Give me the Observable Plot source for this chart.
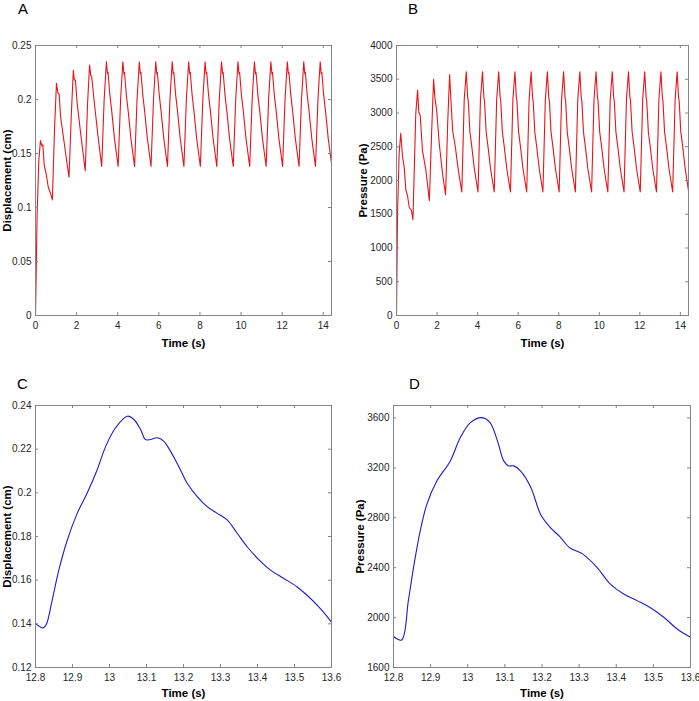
<!DOCTYPE html>
<html>
<head>
<meta charset="utf-8">
<script src="https://cdn.jsdelivr.net/npm/d3@7"></script>
<script src="https://cdn.jsdelivr.net/npm/@observablehq/plot@0.6"></script>
<style>
  html, body { margin: 0; padding: 0; background: #fff; }
  #root { position: relative; width: 699px; height: 701px; font-family: "Liberation Sans", Arial, sans-serif; }
  .panel { position: absolute; }
  .letter { position: absolute; font-size: 15px; color: #000; line-height: 1; }
</style>
</head>
<body>
<div id="root"></div>
<script>
// ---------- Panel A: displacement, full run ----------
const timeA = [
  0, 0.08, 0.16, 0.24, 0.31, 0.36, 0.42, 0.52, 0.62, 0.73, 0.82,
  0.93, 1.02, 1.09, 1.15, 1.22, 1.38, 1.54, 1.63,
  1.74, 1.84, 1.89, 1.94, 2.03, 2.20, 2.42,
  2.53, 2.63, 2.69, 2.73, 2.85, 3.03,
  3.22, 3.34, 3.45, 3.50, 3.53, 3.62, 3.71, 3.84,
  4.02, 4.14, 4.25, 4.30, 4.33, 4.42, 4.51, 4.64,
  4.82, 4.94, 5.05, 5.10, 5.13, 5.22, 5.31, 5.44,
  5.62, 5.74, 5.85, 5.90, 5.93, 6.02, 6.11, 6.24,
  6.42, 6.54, 6.65, 6.70, 6.73, 6.82, 6.91, 7.04,
  7.22, 7.34, 7.45, 7.50, 7.53, 7.62, 7.71, 7.84,
  8.02, 8.14, 8.25, 8.30, 8.33, 8.42, 8.51, 8.64,
  8.82, 8.94, 9.05, 9.10, 9.13, 9.22, 9.31, 9.44,
  9.62, 9.74, 9.85, 9.90, 9.93, 10.02, 10.11, 10.24,
  10.42, 10.54, 10.65, 10.70, 10.73, 10.82, 10.91, 11.04,
  11.22, 11.34, 11.45, 11.50, 11.53, 11.62, 11.71, 11.84,
  12.02, 12.14, 12.25, 12.30, 12.33, 12.42, 12.51, 12.64,
  12.82, 12.94, 13.05, 13.10, 13.13, 13.22, 13.31, 13.44,
  13.62, 13.74, 13.85, 13.90, 13.93, 14.02, 14.11, 14.24, 14.40
];
const dispA = [
  0, 0.094, 0.143, 0.162, 0.157, 0.158, 0.140, 0.131, 0.119, 0.113, 0.107,
  0.175, 0.215, 0.206, 0.205, 0.184, 0.162, 0.140, 0.128,
  0.185, 0.227, 0.218, 0.218, 0.196, 0.168, 0.134,
  0.195, 0.232, 0.222, 0.222, 0.199, 0.168,
  0.138, 0.200, 0.235, 0.224, 0.225, 0.204, 0.189, 0.164,
  0.138, 0.200, 0.235, 0.224, 0.225, 0.204, 0.189, 0.164,
  0.138, 0.200, 0.235, 0.224, 0.225, 0.204, 0.189, 0.164,
  0.138, 0.200, 0.235, 0.224, 0.225, 0.204, 0.189, 0.164,
  0.138, 0.200, 0.235, 0.224, 0.225, 0.204, 0.189, 0.164,
  0.138, 0.200, 0.235, 0.224, 0.225, 0.204, 0.189, 0.164,
  0.138, 0.200, 0.235, 0.224, 0.225, 0.204, 0.189, 0.164,
  0.138, 0.200, 0.235, 0.224, 0.225, 0.204, 0.189, 0.164,
  0.138, 0.200, 0.235, 0.224, 0.225, 0.204, 0.189, 0.164,
  0.138, 0.200, 0.235, 0.224, 0.225, 0.204, 0.189, 0.164,
  0.138, 0.200, 0.235, 0.224, 0.225, 0.204, 0.189, 0.164,
  0.138, 0.200, 0.235, 0.224, 0.225, 0.204, 0.189, 0.164,
  0.138, 0.200, 0.235, 0.224, 0.225, 0.204, 0.189, 0.164,
  0.138, 0.200, 0.235, 0.224, 0.225, 0.204, 0.189, 0.164, 0.141
];

// ---------- Panel B: pressure, full run ----------
const timeB = [
  0, 0.05, 0.13, 0.21, 0.30, 0.38, 0.46, 0.54, 0.63, 0.74, 0.81,
  0.95, 1.04, 1.10, 1.17, 1.28, 1.45, 1.62,
  1.73, 1.83, 1.89, 1.98, 2.11, 2.27, 2.42,
  2.53, 2.62, 2.68, 2.77, 2.90, 3.05,
  3.22, 3.34, 3.44, 3.51, 3.54, 3.62, 3.71, 3.84,
  4.02, 4.14, 4.24, 4.31, 4.34, 4.42, 4.51, 4.64,
  4.82, 4.94, 5.04, 5.11, 5.14, 5.22, 5.31, 5.44,
  5.62, 5.74, 5.84, 5.91, 5.94, 6.02, 6.11, 6.24,
  6.42, 6.54, 6.64, 6.71, 6.74, 6.82, 6.91, 7.04,
  7.22, 7.34, 7.44, 7.51, 7.54, 7.62, 7.71, 7.84,
  8.02, 8.14, 8.24, 8.31, 8.34, 8.42, 8.51, 8.64,
  8.82, 8.94, 9.04, 9.11, 9.14, 9.22, 9.31, 9.44,
  9.62, 9.74, 9.84, 9.91, 9.94, 10.02, 10.11, 10.24,
  10.42, 10.54, 10.64, 10.71, 10.74, 10.82, 10.91, 11.04,
  11.22, 11.34, 11.44, 11.51, 11.54, 11.62, 11.71, 11.84,
  12.02, 12.14, 12.24, 12.31, 12.34, 12.42, 12.51, 12.64,
  12.82, 12.94, 13.04, 13.11, 13.14, 13.22, 13.31, 13.44,
  13.62, 13.74, 13.84, 13.91, 13.94, 14.02, 14.11, 14.24, 14.40
];
const pressB = [
  0, 1500, 2400, 2700, 2345, 2200, 1860, 1780, 1600, 1555, 1420,
  2990, 3335, 3010, 2960, 2445, 2150, 1700,
  2690, 3500, 3235, 3040, 2545, 2100, 1790,
  2900, 3570, 3210, 2740, 2500, 2150,
  1830, 3200, 3610, 3230, 3180, 2720, 2510, 2170,
  1830, 3200, 3610, 3230, 3180, 2720, 2510, 2170,
  1830, 3200, 3610, 3230, 3180, 2720, 2510, 2170,
  1830, 3200, 3610, 3230, 3180, 2720, 2510, 2170,
  1830, 3200, 3610, 3230, 3180, 2720, 2510, 2170,
  1830, 3200, 3610, 3230, 3180, 2720, 2510, 2170,
  1830, 3200, 3610, 3230, 3180, 2720, 2510, 2170,
  1830, 3200, 3610, 3230, 3180, 2720, 2510, 2170,
  1830, 3200, 3610, 3230, 3180, 2720, 2510, 2170,
  1830, 3200, 3610, 3230, 3180, 2720, 2510, 2170,
  1830, 3200, 3610, 3230, 3180, 2720, 2510, 2170,
  1830, 3200, 3610, 3230, 3180, 2720, 2510, 2170,
  1830, 3200, 3610, 3230, 3180, 2720, 2510, 2170,
  1830, 3200, 3610, 3230, 3180, 2720, 2510, 2170, 1850
];

// ---------- Panel C: displacement, one cycle ----------
const timeC = [
  12.800, 12.8135, 12.822, 12.830, 12.845, 12.863, 12.886, 12.913, 12.940, 12.967,
  12.990, 13.016, 13.048, 13.066, 13.084, 13.097, 13.110, 13.129, 13.147, 13.165,
  13.187, 13.210, 13.237, 13.264, 13.290, 13.318, 13.345, 13.372, 13.400, 13.435,
  13.471, 13.507, 13.534, 13.570, 13.600
];
const dispC = [
  0.1401, 0.1385, 0.1382, 0.1400, 0.1508, 0.1646, 0.1784, 0.1907, 0.2000, 0.2107,
  0.2214, 0.2297, 0.2351, 0.2336, 0.2290, 0.2244, 0.2244, 0.2252, 0.2236, 0.2190,
  0.2121, 0.2044, 0.1983, 0.1937, 0.1907, 0.1876, 0.1815, 0.1753, 0.1700, 0.1646,
  0.1608, 0.1569, 0.1531, 0.1470, 0.1408
];

// ---------- Panel D: pressure, one cycle ----------
const timeD = [
  12.800, 12.822, 12.840, 12.854, 12.872, 12.890, 12.917, 12.953, 12.980, 13.007,
  13.038, 13.060, 13.080, 13.097, 13.110, 13.124, 13.142, 13.170, 13.196, 13.222,
  13.250, 13.273, 13.310, 13.348, 13.384, 13.420, 13.456, 13.490, 13.528, 13.564,
  13.600
];
const pressD = [
  1848, 1821, 2136, 2403, 2696, 2909, 3096, 3256, 3443, 3563,
  3603, 3563, 3416, 3256, 3216, 3216, 3176, 3043, 2829, 2723,
  2643, 2563, 2509, 2403, 2269, 2189, 2136, 2083, 2003, 1909,
  1843
];

// ---------- Ticks ----------
const xTicksLong = [0, 2, 4, 6, 8, 10, 12, 14];
const xTicksShort = [12.8, 12.9, 13, 13.1, 13.2, 13.3, 13.4, 13.5, 13.6];
const yTicksA = [0, 0.05, 0.1, 0.15, 0.2, 0.25];
const yTicksB = [0, 500, 1000, 1500, 2000, 2500, 3000, 3500, 4000];
const yTicksC = [0.12, 0.14, 0.16, 0.18, 0.2, 0.22, 0.24];
const yTicksD = [1600, 2000, 2400, 2800, 3200, 3600];

const FRAME = "#858585";
const LABEL = "#262626";
const FONT = "Liberation Sans, Arial, sans-serif";

function panel({times, values, xDomain, yDomain, xTicks, yTicks, yLabel, color, curve,
                width, height, ml, mr, mt, mb, yLabelDx, xLabelDy}) {
  const innerW = width - ml - mr;
  const innerH = height - mt - mb;
  const tl = 3;
  const data = times.map((t, i) => ({t, v: values[i]}));
  return Plot.plot({
    width, height,
    marginLeft: ml, marginRight: mr, marginTop: mt, marginBottom: mb,
    style: {fontFamily: FONT, fontSize: "10px", color: LABEL, background: "#fff", overflow: "visible"},
    x: {domain: xDomain},
    y: {domain: yDomain},
    marks: [
      Plot.line(data, {x: "t", y: "v", stroke: color, strokeWidth: 1.1, curve}),
      Plot.frame({stroke: FRAME, strokeWidth: 1}),
      // inward ticks, bottom/top
      Plot.tickX(xTicks, {x: d => d, insetTop: innerH - tl, stroke: FRAME}),
      Plot.tickX(xTicks, {x: d => d, insetBottom: innerH - tl, stroke: FRAME}),
      // inward ticks, left/right
      Plot.tickY(yTicks, {y: d => d, insetRight: innerW - tl, stroke: FRAME}),
      Plot.tickY(yTicks, {y: d => d, insetLeft: innerW - tl, stroke: FRAME}),
      Plot.axisX({ticks: xTicks, tickSize: 0, tickPadding: 6, tickFormat: d => String(d), label: null, fill: LABEL}),
      Plot.axisY({ticks: yTicks, tickSize: 0, tickPadding: 4, tickFormat: d => String(d), label: null, fill: LABEL}),
      Plot.text(["Time (s)"], {frameAnchor: "bottom", dy: xLabelDy, text: d => d, fontWeight: "bold",
        fontSize: 11.5, fill: "#000", textAnchor: "middle", lineAnchor: "middle"}),
      Plot.text([yLabel], {frameAnchor: "left", dx: yLabelDx, rotate: -90, text: d => d, fontWeight: "bold",
        fontSize: 11.5, fill: "#000", textAnchor: "middle", lineAnchor: "middle"})
    ]
  });
}

const root = document.getElementById("root");
function place(node, left, top) {
  const wrap = document.createElement("div");
  wrap.className = "panel";
  wrap.style.left = left + "px";
  wrap.style.top = top + "px";
  wrap.appendChild(node);
  root.appendChild(wrap);
}
function letter(txt, left, top) {
  const d = document.createElement("div");
  d.className = "letter";
  d.textContent = txt;
  d.style.left = left + "px";
  d.style.top = top + "px";
  root.appendChild(d);
}

place(panel({times: timeA, values: dispA, xDomain: [0, 14.4], yDomain: [0, 0.25],
  xTicks: xTicksLong, yTicks: yTicksA, yLabel: "Displacement (cm)", color: "#e8141b", curve: "linear",
  width: 345, height: 355, ml: 35, mr: 14, mt: 45, mb: 40, yLabelDx: -28, xLabelDy: 28}), 0, 0);

place(panel({times: timeB, values: pressB, xDomain: [0, 14.4], yDomain: [0, 4000],
  xTicks: xTicksLong, yTicks: yTicksB, yLabel: "Pressure (Pa)", color: "#e8141b", curve: "linear",
  width: 349, height: 355, ml: 46, mr: 11, mt: 45, mb: 40, yLabelDx: -33, xLabelDy: 28}), 350, 0);

place(panel({times: timeC, values: dispC, xDomain: [12.8, 13.6], yDomain: [0.12, 0.24],
  xTicks: xTicksShort, yTicks: yTicksC, yLabel: "Displacement (cm)", color: "#1c1cc8", curve: "catmull-rom",
  width: 345, height: 341, ml: 35, mr: 14, mt: 45, mb: 34, yLabelDx: -28, xLabelDy: 26}), 0, 360);

place(panel({times: timeD, values: pressD, xDomain: [12.8, 13.6], yDomain: [1600, 3700],
  xTicks: xTicksShort, yTicks: yTicksD, yLabel: "Pressure (Pa)", color: "#1c1cc8", curve: "catmull-rom",
  width: 349, height: 341, ml: 43, mr: 9, mt: 45, mb: 34, yLabelDx: -33, xLabelDy: 26}), 350, 360);

letter("A", 18, 1);
letter("B", 408, 1);
letter("C", 17, 376);
letter("D", 409, 376);
</script>
</body>
</html>
